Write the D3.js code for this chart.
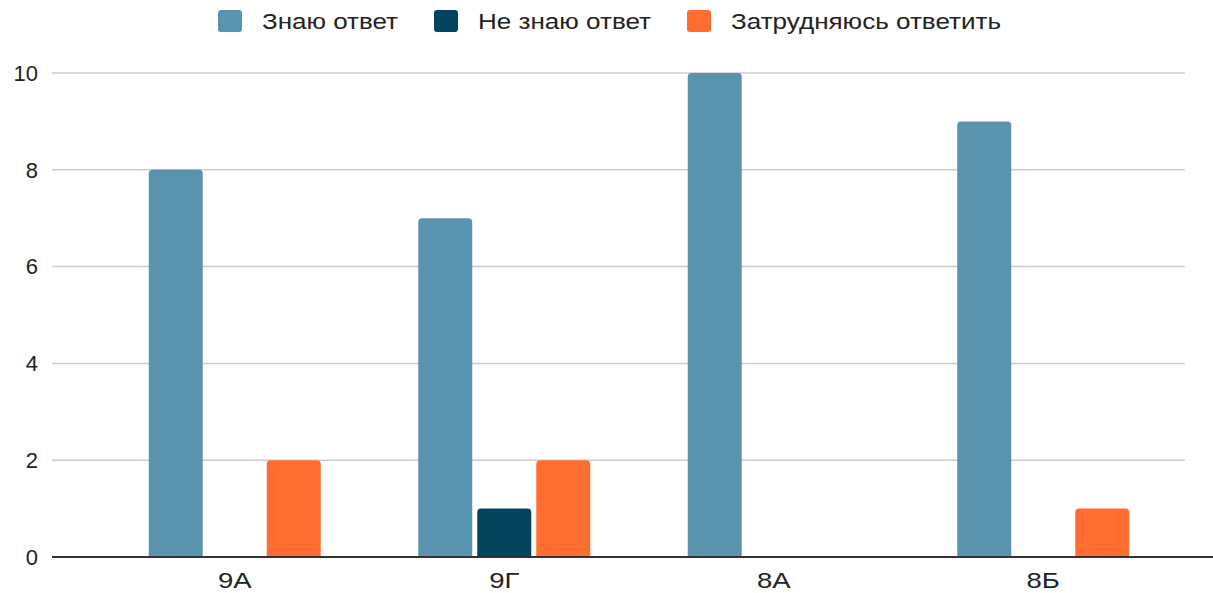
<!DOCTYPE html>
<html>
<head>
<meta charset="utf-8">
<script src="https://cdn.jsdelivr.net/npm/d3@7"></script>
<style>
  body { margin: 0; background: #fff; }
  svg { font-family: "Liberation Sans", Arial, sans-serif; }
</style>
</head>
<body>
<svg width="1213" height="593"></svg>
<script>
// data
const classes = ["9А", "9Г", "8А", "8Б"];
const seriesNames = ["Знаю ответ", "Не знаю ответ", "Затрудняюсь ответить"];
const know = [8, 7, 10, 9];
const dontKnow = [0, 1, 0, 0];
const unsure = [2, 2, 0, 1];
const yTicks = [0, 2, 4, 6, 8, 10];
const colors = ["#5993b0", "#05445f", "#ff6d31"];

const svg = d3.select("svg");
const seriesValues = [know, dontKnow, unsure];

const yScale = d3.scaleLinear().domain([0, 10]).range([557, 73]);
const xScale = d3.scaleBand().domain(classes).range([100, 1178]).padding(0);
const groupW = 172;
const subScale = d3.scaleBand().domain(seriesNames).range([0, groupW]).paddingInner(0.085);

// grid lines
svg.append("g").selectAll("line")
  .data(yTicks.filter(t => t > 0))
  .enter().append("line")
    .attr("x1", 52).attr("x2", 1185)
    .attr("y1", d => yScale(d)).attr("y2", d => yScale(d))
    .attr("stroke", "#cccccc").attr("stroke-width", 1.5);

// y labels
svg.append("g").selectAll("text")
  .data(yTicks)
  .enter().append("text")
    .attr("x", 38).attr("y", d => yScale(d))
    .attr("dy", "0.35em")
    .attr("text-anchor", "end")
    .attr("font-size", 22)
    .attr("fill", "#222")
    .text(d => d);

// bars with rounded tops
const rtop = (x, y, w, h, r) => {
  r = Math.min(r, h, w / 2);
  return `M${x},${y + h}V${y + r}Q${x},${y} ${x + r},${y}H${x + w - r}Q${x + w},${y} ${x + w},${y + r}V${y + h}Z`;
};

const bars = [];
classes.forEach((c, i) => {
  seriesNames.forEach((s, j) => {
    bars.push({ c, s, j, v: seriesValues[j][i] });
  });
});

svg.append("g").selectAll("path")
  .data(bars.filter(d => d.v > 0))
  .enter().append("path")
    .attr("fill", d => colors[d.j])
    .attr("d", d => {
      const x0 = xScale(d.c) + xScale.bandwidth() / 2 - groupW / 2 + subScale(d.s);
      const y = yScale(d.v);
      return rtop(x0, y, subScale.bandwidth(), yScale(0) - y, 4);
    });

// baseline
svg.append("line")
  .attr("x1", 52).attr("x2", 1213)
  .attr("y1", yScale(0)).attr("y2", yScale(0))
  .attr("stroke", "#333").attr("stroke-width", 2);

// x labels (slightly stretched like the source image)
svg.append("g").selectAll("text")
  .data(classes)
  .enter().append("text")
    .attr("transform", d => `translate(${xScale(d) + xScale.bandwidth() / 2}, 580) scale(1.25, 1)`)
    .attr("dy", "0.35em")
    .attr("text-anchor", "middle")
    .attr("font-size", 22)
    .attr("fill", "#222")
    .text(d => d);

// legend
const legendX = [218, 434, 687];
const legendW = [136, 173, 270];
const lg = svg.append("g").selectAll("g")
  .data(seriesNames)
  .enter().append("g")
    .attr("transform", (d, i) => `translate(${legendX[i]}, 21)`);
lg.append("rect")
  .attr("x", 0).attr("y", -11).attr("width", 24).attr("height", 22)
  .attr("rx", 3)
  .attr("fill", (d, i) => colors[i]);
lg.append("text")
  .attr("x", 44).attr("dy", "0.35em")
  .attr("font-size", 22)
  .attr("fill", "#222")
  .attr("textLength", (d, i) => legendW[i])
  .attr("lengthAdjust", "spacingAndGlyphs")
  .text(d => d);
</script>
</body>
</html>
